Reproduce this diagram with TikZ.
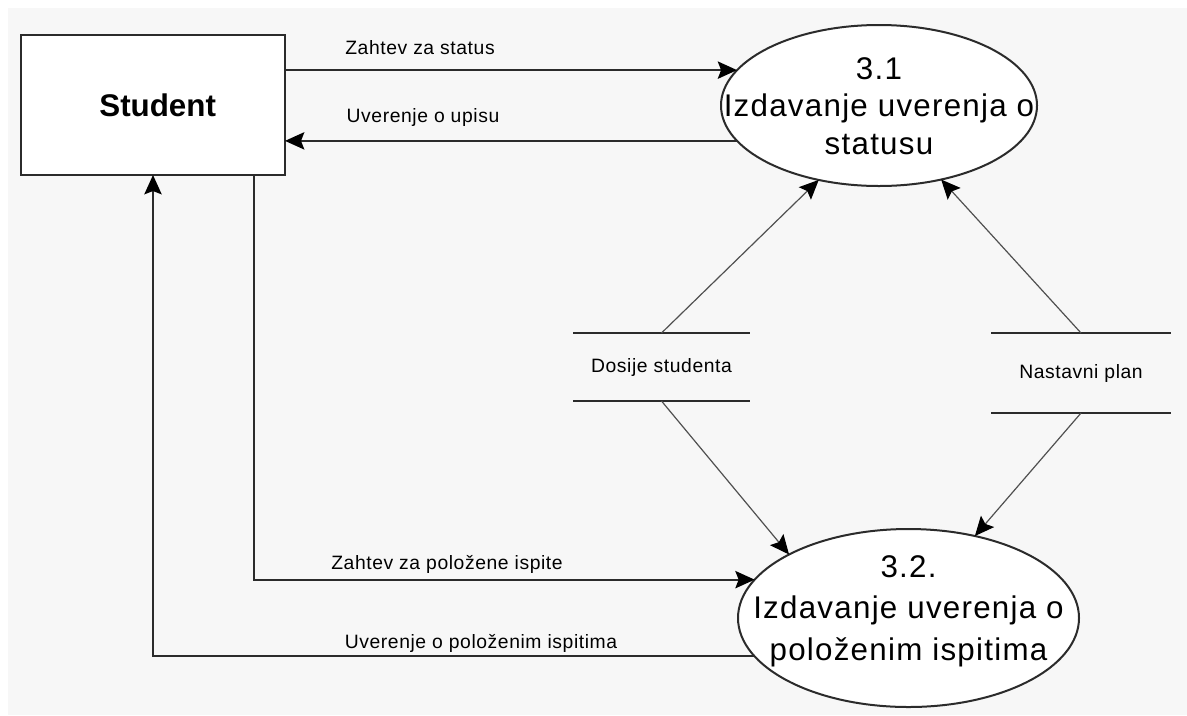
\documentclass[tikz,border=0pt]{standalone}
\usepackage{fontspec}
\setmainfont{Liberation Sans}
\newfontfamily\procfont[LetterSpace=4]{Liberation Sans}
\newfontfamily\lblfont[LetterSpace=3]{Liberation Sans}
\usetikzlibrary{arrows.meta,shapes.geometric}
\definecolor{bgcol}{HTML}{F7F7F7}
\definecolor{ln}{HTML}{2B2B2B}
\definecolor{dln}{HTML}{505050}
\begin{document}
\begin{tikzpicture}[x=0.75pt,y=-0.75pt,
  tipstyle/.style={-{Stealth[length=14.5pt,width=13pt,inset=2.5pt,black]}},
  flow/.style={tipstyle,draw=ln,line width=1.5pt},
  dflow/.style={tipstyle,draw=dln,line width=0.9pt},
  entity/.style={draw=ln,line width=1.5pt,fill=white,minimum width=198pt,minimum height=105pt,inner sep=0pt,outer sep=0pt,font=\bfseries\fontsize{23.5}{28}\selectfont},
  proc/.style={ellipse,draw=ln,line width=1.5pt,fill=white,inner sep=0pt,outer sep=0pt},
  proctext/.style={align=center,inner sep=0pt,text=black},
  store/.style={inner sep=0pt,outer sep=0pt,font=\lblfont\fontsize{14.5}{17}\selectfont},
  storeline/.style={draw=ln,line width=1.5pt},
  lbl/.style={inner sep=0pt,font=\lblfont\fontsize{14.5}{17}\selectfont}
]
\useasboundingbox (0,0) rectangle (1187,715);
\fill[bgcol] (8,8) rectangle (1187,715);

% processes
\node[proc,minimum width=237pt,minimum height=120.75pt] (e31) at (879,105.5) {};
\node[proc,minimum width=255.75pt,minimum height=133.5pt] (e32) at (908.5,618) {};

% external entity
\node[entity] (s) at (153,105) {\hspace*{7pt}Student};

% data stores
\node[store,minimum width=132.75pt,minimum height=51pt] (ds1) at (661.5,367) {Dosije studenta};
\node[store,minimum width=135pt,minimum height=60pt] (ds2) at (1081,373) {\raisebox{-3pt}{Nastavni plan}};
\draw[storeline] (ds1.north west) -- (ds1.north east);
\draw[storeline] (ds1.south west) -- (ds1.south east);
\draw[storeline] (ds2.north west) -- (ds2.north east);
\draw[storeline] (ds2.south west) -- (ds2.south east);

% flows
\coordinate (k1) at (254,0);
\draw[flow] (s.east |- e31.166) -- (e31.166);
\draw[flow] (e31.194) -- (s.east |- e31.194);
\draw[flow] (k1 |- s.south) -- (k1 |- e32.166) -- (e32.166);
\draw[flow] (e32.194) -- (s.south |- e32.194) -- (s.south);

\draw[dflow] (ds1.north) -- (e31.231);
\draw[dflow] (ds2.north) -- (e31.310);
\draw[dflow] (ds1.south) -- (e32.152);
\draw[dflow] (ds2.south) -- (e32.51);

% labels
\node[lbl] (l1) at (420,48) {Zahtev za status};
\node[lbl] (l2) at (423,117) {Uverenje o upisu};
\node[lbl] (l3) at (447,564) {Zahtev za položene ispite};
\node[lbl] (l4) at (481,643) {Uverenje o položenim ispitima};

% process texts
\node[proctext,font=\procfont\fontsize{23.5}{28}\selectfont] (t31) at (879,106) {3.1\\Izdavanje uverenja o\\statusu};
\node[proctext,font=\procfont\fontsize{23.5}{31}\selectfont] (t32) at (908.5,611) {3.2.\\Izdavanje uverenja o\\položenim ispitima};
\end{tikzpicture}
\end{document}
